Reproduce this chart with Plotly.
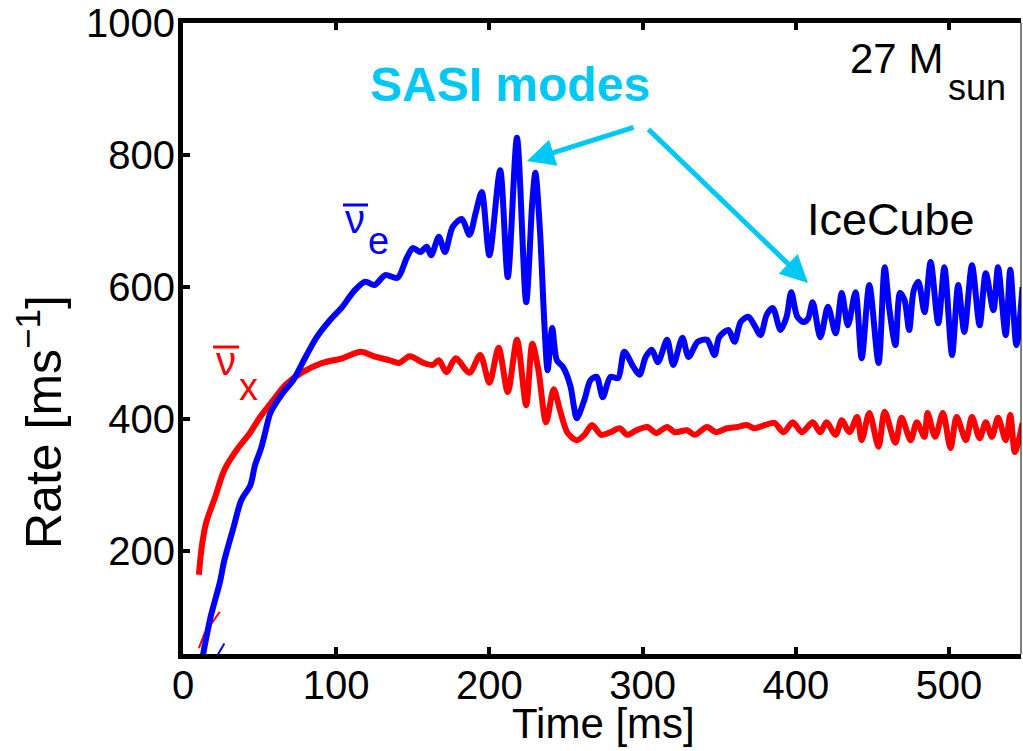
import plotly.graph_objects as go

# anti-electron neutrino rate (blue)
t_e = [13, 18, 24, 27, 33, 38, 44, 47, 51, 54, 57, 65, 72, 80, 87, 96, 104, 112, 119, 125,
       132, 140, 146, 150, 155, 159, 162, 167, 171, 176, 182, 187, 191, 195, 200, 207, 212, 218,
       224, 228, 230, 233, 236, 238, 241, 244, 248, 253, 255, 257, 262, 266, 270, 274, 279, 284,
       288, 294, 298, 302, 306, 310, 316, 320, 326, 330, 336, 342, 347, 350, 356, 360, 364, 369,
       373, 377, 381, 385, 390, 394, 397, 401, 405, 408, 411, 416, 421, 426, 430, 434, 439, 443,
       448, 454, 458, 461, 465, 468, 471, 474, 477, 480, 484, 488, 493, 497, 502, 506, 510, 515,
       520, 524, 529, 532, 537, 540, 544, 548]
rate_e = [42, 100, 152, 186, 236, 277, 300, 330, 356, 383, 409, 439, 459, 494, 523, 550, 570, 595,
          608, 603, 618, 614, 644, 659, 653, 661, 648, 676, 653, 691, 703, 679, 712, 744, 648, 777,
          615, 826, 577, 729, 773, 686, 539, 474, 538, 489, 479, 449, 421, 401, 429, 459, 464, 433,
          464, 462, 502, 479, 467, 494, 505, 486, 520, 482, 523, 494, 517, 520, 497, 524, 535, 517,
          547, 555, 542, 527, 558, 568, 535, 555, 592, 555, 547, 552, 577, 524, 570, 530, 591, 542,
          592, 492, 603, 485, 630, 568, 512, 591, 580, 535, 595, 608, 562, 638, 545, 630, 497, 603,
          532, 633, 542, 621, 565, 630, 527, 626, 512, 600]

# heavy-lepton anti-neutrino rate (red)
t_x = [10.4, 12, 15, 21, 27, 35, 44, 50, 59, 67, 78, 91, 104, 116, 126, 135, 141, 148, 157, 163,
       167, 172, 178, 187, 194, 200, 206, 212, 218, 224, 228, 232, 237, 242, 246, 251, 257, 262,
       267, 273, 279, 285, 290, 296, 303, 309, 316, 321, 329, 334, 342, 348, 355, 362, 368, 373,
       380, 386, 392, 398, 404, 411, 416, 420, 426, 430, 435, 440, 443, 448, 454, 458, 465, 469,
       475, 479, 484, 486, 491, 496, 501, 505, 511, 515, 520, 524, 528, 532, 537, 540, 543, 548]
rate_x = [164, 202, 242, 282, 323, 353, 380, 402, 429, 452, 471, 485, 492, 502, 494, 489, 485, 495,
          485, 482, 489, 471, 492, 470, 497, 455, 508, 441, 520, 421, 514, 474, 395, 445, 414, 379,
          368, 376, 391, 376, 380, 386, 376, 383, 388, 379, 388, 380, 383, 376, 388, 380, 386, 388,
          391, 386, 391, 394, 380, 395, 380, 395, 380, 395, 376, 398, 380, 403, 368, 409, 358, 411,
          364, 402, 368, 395, 373, 409, 373, 409, 356, 403, 368, 403, 371, 395, 373, 402, 368, 406,
          350, 394]

# short thin segments near the origin
t_thin_x = [10.4, 14, 18, 24]
rate_thin_x = [53, 75, 88, 108]
t_thin_e = [22, 27]
rate_thin_e = [40, 60]

x_ticks = [0, 100, 200, 300, 400, 500]
y_ticks = [200, 400, 600, 800, 1000]

FONT = "Liberation Sans, Arial, Helvetica, sans-serif"
CYAN = "rgb(0,200,245)"

fig = go.Figure()
fig.add_trace(go.Scatter(x=t_thin_x, y=rate_thin_x, mode="lines",
                         line=dict(color="#ff0000", width=2)))
fig.add_trace(go.Scatter(x=t_thin_e, y=rate_thin_e, mode="lines",
                         line=dict(color="#0000ff", width=2)))
fig.add_trace(go.Scatter(x=t_x, y=rate_x, mode="lines",
                         line=dict(color="#ff0000", width=6, shape="spline", smoothing=0.8)))
fig.add_trace(go.Scatter(x=t_e, y=rate_e, mode="lines",
                         line=dict(color="#0000ff", width=6, shape="spline", smoothing=0.8)))

ann = []


def label(text, x, y, size=40, color="black", xanchor="center", bold=False, angle=0):
    if bold:
        text = "<b>" + text + "</b>"
    ann.append(dict(text=text, x=x, y=y, xref="paper", yref="paper", showarrow=False,
                    xanchor=xanchor, yanchor="middle", textangle=angle,
                    font=dict(family=FONT, size=size, color=color)))


label("SASI modes", 0.3902, 0.9033, size=48, color=CYAN, bold=True)
label("IceCube", 0.8449, 0.6878, size=45)
label("27 M", 0.9093, 0.943, size=42, xanchor="right")
label("sun", 0.9105, 0.897, size=36, xanchor="left")
label("ν", 0.2053, 0.6894, size=40, color="#0000ff")
label("e", 0.2327, 0.6545, size=38, color="#0000ff")
label("ν", 0.0513, 0.4643, size=40, color="#ff0000")
label("x", 0.0776, 0.4231, size=38, color="#ff0000")
label("Time [ms]", 0.5012, -0.1109, size=42)
label("Rate [ms<sup>−1</sup>]", -0.1706, 0.3677, size=50, angle=-90)

# arrows pointing at the SASI oscillations
ann.append(dict(x=0.4105, y=0.7813, xref="paper", yref="paper", text="", showarrow=True,
                ax=108, ay=-34, arrowhead=2, arrowsize=1.1, arrowwidth=5, arrowcolor=CYAN,
                standoff=0))
ann.append(dict(x=0.7458, y=0.588, xref="paper", yref="paper", text="", showarrow=True,
                ax=-161, ay=-155, arrowhead=2, arrowsize=1.1, arrowwidth=5, arrowcolor=CYAN,
                standoff=0))

shapes = [
    dict(type="line", xref="paper", yref="paper", x0=0.1909, x1=0.2208, y0=0.7116, y1=0.7116,
         line=dict(color="#0000ff", width=3)),
    dict(type="line", xref="paper", yref="paper", x0=0.0358, x1=0.0668, y0=0.4865, y1=0.4865,
         line=dict(color="#ff0000", width=3)),
    dict(type="line", xref="paper", yref="paper", x0=1, x1=1, y0=0, y1=1,
         line=dict(color="black", width=1)),
]

fig.update_layout(
    width=1023, height=751,
    margin=dict(l=183, r=2, t=23, b=97),
    paper_bgcolor="white", plot_bgcolor="white",
    showlegend=False,
    font=dict(family=FONT, size=40, color="black"),
    annotations=ann, shapes=shapes,
    xaxis=dict(range=[0, 547], tickvals=x_ticks, ticks="inside", ticklen=7, tickwidth=4,
               tickcolor="black", showline=True, linewidth=5, linecolor="black",
               mirror="ticks", showgrid=False, zeroline=False, ticklabelstandoff=-8,
               ticklabeloverflow="allow", tickfont=dict(family=FONT, size=40)),
    yaxis=dict(range=[44, 1000], tickvals=y_ticks, ticks="inside", ticklen=7, tickwidth=4,
               tickcolor="black", showline=True, linewidth=5, linecolor="black",
               showgrid=False, zeroline=False, ticklabelstandoff=-5,
               ticklabeloverflow="allow", tickfont=dict(family=FONT, size=40)),
)

# drop the default page margin so the figure sits at the window's corner
fig.write_html("out.html", config={"displayModeBar": False},
               post_script="document.body.style.margin='0';")
